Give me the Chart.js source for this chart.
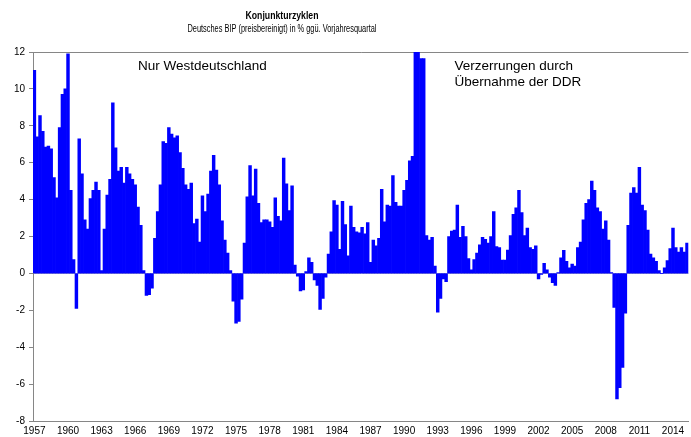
<!DOCTYPE html>
<html>
<head>
<meta charset="utf-8">
<script src="https://cdn.jsdelivr.net/npm/chart.js@4"></script>
<style>
  html, body { margin: 0; padding: 0; background: #fff; }
  canvas { display: block; }
</style>
</head>
<body>
<canvas id="myChart" width="691" height="437"></canvas>
<script>
// BIP-Wachstum ggü. Vorjahresquartal, in %, ab 1957 Q1
const gdp1950s = [11.0, 7.4, 8.55, 7.7, 6.85, 6.9, 6.75, 5.2, 4.1, 7.9, 9.7, 10.0];
const gdp1960s = [11.9, 4.5, 0.75, -1.9, 7.3, 5.4, 2.9, 2.4, 4.05, 4.5, 4.95, 4.5,
    0.15, 2.4, 4.25, 5.1, 9.25, 6.8, 5.55, 5.75, 4.9, 5.75, 5.4, 5.1,
    4.8, 3.6, 2.6, 0.15, -1.2, -1.15, -0.8, 1.9, 3.35, 4.8, 7.15, 7.05,
    7.9, 7.55, 7.35, 7.45];
const gdp1970s = [6.55, 5.7, 4.8, 4.55, 4.9, 2.7, 2.95, 1.7, 4.2, 3.35, 4.3, 5.55,
    6.4, 5.6, 4.8, 2.85, 1.8, 1.1, 0.15, -1.5, -2.7, -2.6, -1.4, 1.65,
    4.15, 5.85, 4.2, 5.65, 3.8, 2.75, 2.9, 2.9, 2.8, 2.5, 4.1, 3.1,
    2.85, 6.25, 4.85, 3.4];
const gdp1980s = [4.75, 0.45, -0.15, -0.95, -0.9, 0.1, 0.85, 0.6, -0.35, -0.65, -1.95, -1.35,
    -0.2, 1.05, 2.25, 3.95, 3.7, 1.3, 3.9, 2.65, 0.95, 3.65, 2.5, 2.25,
    2.2, 2.5, 2.15, 2.75, 0.6, 1.8, 1.5, 1.9, 4.55, 2.8, 3.7, 3.65,
    5.3, 3.85, 3.65, 3.65];
const gdp1990s = [4.5, 5.05, 6.1, 6.35, 12, 12, 11.65, 11.65, 2.05, 1.8, 1.95, 0.4,
    -2.1, -1.35, -0.3, -0.45, 2.0, 2.3, 2.35, 3.7, 1.95, 2.55, 2.0, 0.8,
    0.2, 0.75, 1.1, 1.55, 1.95, 1.85, 1.65, 2.0, 3.35, 1.45, 1.4, 0.72,
    0.72, 1.27, 2.05, 3.2];
const gdp2000s = [3.55, 4.5, 3.3, 2.05, 2.45, 1.4, 1.3, 1.5, -0.3, -0.05, 0.55, 0.2,
    -0.2, -0.5, -0.65, 0.05, 0.85, 1.25, 0.65, 0.3, 0.5, 0.4, 1.4, 1.7,
    2.9, 3.8, 4.0, 5.0, 4.5, 3.55, 3.35, 2.4, 2.85, 1.8, 0.05, -1.85,
    -6.8, -6.2, -5.1, -2.15];
const gdp2010s = [2.6, 4.35, 4.65, 4.35, 5.75, 3.7, 3.4, 2.35, 1.05, 0.85, 0.65, 0.15,
    0.0, 0.3, 0.7, 1.35, 2.45, 1.4, 1.15, 1.4, 1.15, 1.65];

const firstYear = 1957;
const tickYears = [1957, 1960, 1963, 1966, 1969, 1972, 1975, 1978, 1981, 1984, 1987,
    1990, 1993, 1996, 1999, 2002, 2005, 2008, 2011, 2014];
const yTicks = [-8, -6, -4, -2, 0, 2, 4, 6, 8, 10, 12];

const titleText = 'Konjunkturzyklen';
const subtitleText = 'Deutsches BIP (preisbereinigt) in % ggü. Vorjahresquartal';
const notes = [
    { lines: ['Nur Westdeutschland'], index: 37, value: 11.2 },
    { lines: ['Verzerrungen durch', 'Übernahme der DDR'], index: 150, value: 11.25 },
];

const growth = [].concat(gdp1950s, gdp1960s, gdp1970s, gdp1980s, gdp1990s, gdp2000s, gdp2010s);
const quarters = growth.map((v, i) => (firstYear + Math.floor(i / 4)) + ' Q' + (i % 4 + 1));

const FONT = 'Liberation Sans, Arial, sans-serif';

const textPlugin = {
    id: 'texts',
    afterDraw(chart) {
        const ctx = chart.ctx;
        const x = chart.scales.x;
        const y = chart.scales.y;
        ctx.save();
        ctx.fillStyle = '#000';
        ctx.textBaseline = 'middle';

        // titles, horizontally narrow like the original
        ctx.textAlign = 'center';
        ctx.font = 'bold 11px ' + FONT;
        let w = ctx.measureText(titleText).width;
        ctx.save();
        ctx.translate(282, 16);
        ctx.scale(73 / w, 1);
        ctx.fillText(titleText, 0, 0);
        ctx.restore();

        ctx.font = '10px ' + FONT;
        w = ctx.measureText(subtitleText).width;
        ctx.save();
        ctx.translate(282, 29);
        ctx.scale(189 / w, 1);
        ctx.fillText(subtitleText, 0, 0);
        ctx.restore();

        // notes inside the plot
        ctx.textAlign = 'left';
        ctx.font = '13.5px ' + FONT;
        notes.forEach(n => {
            const px = x.getPixelForValue(n.index);
            const py = y.getPixelForValue(n.value);
            n.lines.forEach((t, i) => ctx.fillText(t, px, py + i * 16.5));
        });
        ctx.restore();
    }
};

const ctx = document.getElementById('myChart').getContext('2d');

let myChart = new Chart(ctx, {
    type: 'bar',
    data: {
        labels: quarters,
        datasets: [
            {
                label: 'BIP',
                data: growth,
                backgroundColor: '#0000ff',
                borderWidth: 0,
                barPercentage: 1,
                categoryPercentage: 1,
            },
        ],
    },
    options: {
        responsive: false,
        animation: false,
        layout: { padding: { top: 52, right: 0, left: 0, bottom: 0 } },
        plugins: {
            legend: { display: false },
            title: { display: false },
            tooltip: { enabled: false },
        },
        scales: {
            x: {
                grid: { display: false, drawTicks: false },
                border: { display: true, color: '#868686', width: 1 },
                ticks: {
                    autoSkip: false,
                    maxRotation: 0,
                    minRotation: 0,
                    padding: 4,
                    color: '#000',
                    font: { family: FONT, size: 10 },
                    callback: (val, i) => {
                        const year = firstYear + Math.floor(i / 4);
                        return (i % 4 === 0 && tickYears.includes(year)) ? String(year) : '';
                    },
                },
                afterFit: s => { s.height = 16; },
            },
            y: {
                min: -8,
                max: 12,
                afterBuildTicks: s => { s.ticks = yTicks.map(v => ({ value: v })); },
                grid: {
                    color: c => c.tick.value === 0 ? '#7f7fd0' : (c.tick.value === 12 ? '#868686' : 'rgba(0,0,0,0)'),
                    tickColor: '#868686',
                    tickLength: 4,
                },
                border: { display: true, color: '#868686', width: 1 },
                ticks: {
                    padding: 4,
                    color: '#000',
                    font: { family: FONT, size: 10 },
                },
                afterFit: s => { s.width = 33; },
            },
        },
    },
    plugins: [textPlugin],
});
</script>
</body>
</html>
